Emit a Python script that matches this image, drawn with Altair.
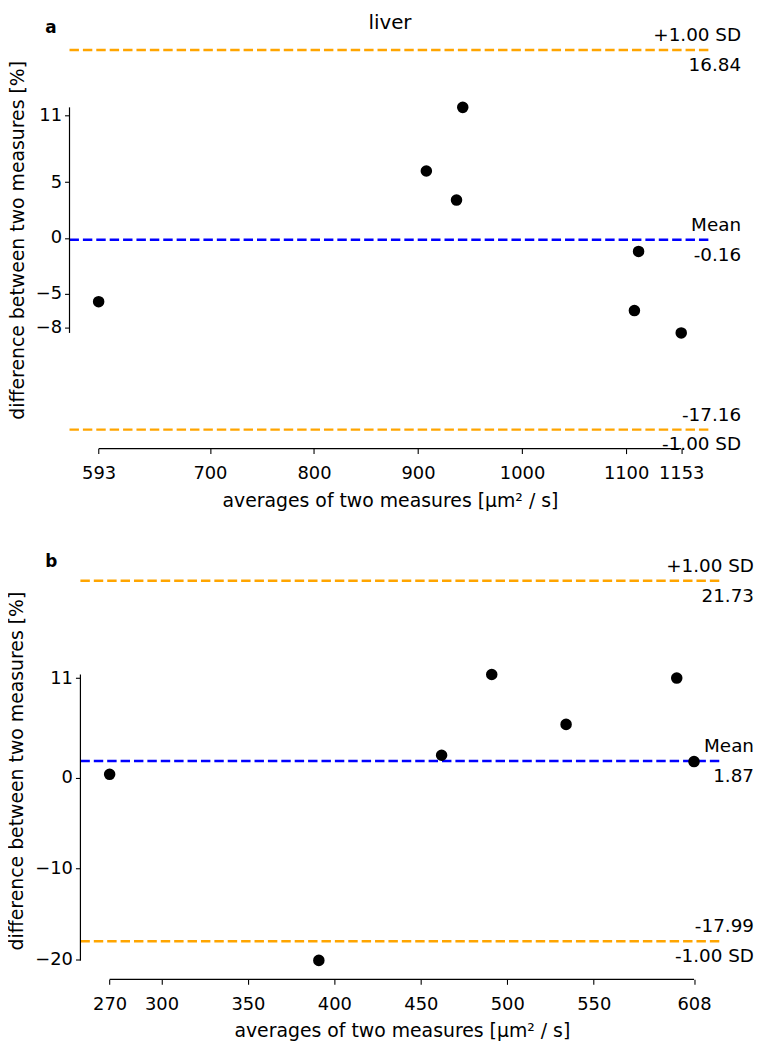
import altair as alt
import pandas as pd

FONT = "DejaVu Sans"
ORANGE = "#ffa500"
BLUE = "#0000ff"

# ---------------- panel a (liver) ----------------
a_avg = [593, 908, 937, 943, 1108, 1112, 1153]
a_diff = [-5.7, 6.0, 3.4, 11.7, -6.5, -1.2, -8.5]
a_line_vals = [16.84, -0.16, -17.16]
a_line_colors = [ORANGE, BLUE, ORANGE]
a_above = ["+1.00 SD", "Mean", "-17.16"]
a_below = ["16.84", "-0.16", "-1.00 SD"]
a_xticks = [593, 700, 800, 900, 1000, 1100, 1153]
a_yticks = [-8, -5, 0, 5, 11]
a_xdomain = [565, 1181]
a_ydomain = [-18.86, 18.54]

# ---------------- panel b ----------------
b_avg = [270, 391, 462, 491, 534, 598, 608]
b_diff = [0.4, -20.1, 2.5, 11.4, 5.9, 11.0, 1.8]
b_line_vals = [21.73, 1.87, -17.99]
b_line_colors = [ORANGE, BLUE, ORANGE]
b_above = ["+1.00 SD", "Mean", "-17.99"]
b_below = ["21.73", "1.87", "-1.00 SD"]
b_xticks = [270, 300, 350, 400, 450, 500, 550, 608]
b_yticks = [-20, -10, 0, 11]
b_xdomain = [253.1, 624.9]
b_ydomain = [-22.19, 23.82]

X_TITLE = "averages of two measures [µm² / s]"
Y_TITLE = "difference between two measures [%]"


def panel(avg, diff, line_vals, line_colors, above, below, xticks, yticks,
          xdom, ydom, letter, letter_pos, W, H, shift=0, title=None):
    pts = pd.DataFrame({"avg": avg, "diff": diff})
    lines = pd.DataFrame({"val": line_vals, "color": line_colors,
                          "above": above, "below": below})
    xs = alt.Scale(domain=xdom, nice=False, zero=False, range=[-shift, W - shift])
    ys = alt.Scale(domain=ydom, nice=False, zero=False)
    xax = alt.Axis(values=xticks, format="d", title=X_TITLE)
    yax = alt.Axis(values=yticks, format="d", title=Y_TITLE, offset=shift)

    rules = alt.Chart(lines).mark_rule(strokeDash=[9.5, 4], strokeWidth=2.4).encode(
        x=alt.X(datum=xdom[0], scale=xs, axis=xax),
        x2=alt.X2(datum=xdom[1]),
        y=alt.Y("val:Q", scale=ys, axis=yax),
        color=alt.Color("color:N", scale=None),
    )
    yspine = alt.Chart(pts).mark_rule(color="#000000", strokeWidth=1.2).encode(
        x=alt.X(datum=xdom[0], scale=xs, axis=xax),
        y=alt.Y("min(diff):Q", scale=ys, axis=yax),
        y2="max(diff):Q",
    )
    xspine = alt.Chart(pts).mark_rule(color="#000000", strokeWidth=1.2).encode(
        y=alt.value(H),
        x=alt.X("min(avg):Q", scale=xs, axis=xax),
        x2="max(avg):Q",
    )
    points = alt.Chart(pts).mark_circle(size=135, color="black", opacity=1).encode(
        x=alt.X("avg:Q", scale=xs, axis=xax),
        y=alt.Y("diff:Q", scale=ys, axis=yax),
    )
    tx = W - shift + 31
    txt_above = alt.Chart(lines).mark_text(
        align="right", baseline="alphabetic", dy=-9, fontSize=18.5, font=FONT, color="black"
    ).encode(x=alt.value(tx), y=alt.Y("val:Q", scale=ys, axis=yax), text="above:N")
    txt_below = alt.Chart(lines).mark_text(
        align="right", baseline="top", dy=6, fontSize=18.5, font=FONT, color="black"
    ).encode(x=alt.value(tx), y=alt.Y("val:Q", scale=ys, axis=yax), text="below:N")
    lab = alt.Chart(pd.DataFrame({"t": [letter]})).mark_text(
        align="left", baseline="alphabetic", fontSize=17, fontWeight="bold", font=FONT, color="black"
    ).encode(x=alt.value(letter_pos[0]), y=alt.value(letter_pos[1]), text="t:N")
    layers = [rules, yspine, xspine, points, txt_above, txt_below, lab]
    if title is not None:
        ttl = alt.Chart(pd.DataFrame({"t": [title]})).mark_text(
            align="center", baseline="alphabetic", fontSize=20, font=FONT, color="black"
        ).encode(x=alt.value(W / 2 - shift), y=alt.value(-2.5), text="t:N")
        layers.append(ttl)
    return alt.layer(*layers).properties(width=W, height=H)


pa = panel(a_avg, a_diff, a_line_vals, a_line_colors, a_above, a_below, a_xticks, a_yticks,
           a_xdomain, a_ydomain, "a", (-35.5, 2), 646, 421, shift=11, title="liver")
pb = panel(b_avg, b_diff, b_line_vals, b_line_colors, b_above, b_below, b_xticks, b_yticks,
           b_xdomain, b_ydomain, "b", (-35.5, 5), 648, 421)

chart = alt.vconcat(pa, pb, spacing=43).properties(
    padding={"left": 0, "top": 0, "right": 0, "bottom": 0}
).configure_axis(
    domain=False, grid=False, ticks=True, tickColor="black", tickSize=5, tickWidth=1.1,
    labelFont=FONT, labelFontSize=18, labelColor="black", labelPadding=3,
    titleFont=FONT, titleFontSize=19, titleFontWeight="normal", titleColor="black",
).configure_axisY(titlePadding=8).configure_axisX(titlePadding=9, labelPadding=11).configure_view(stroke=None)

chart.save("out.html", embed_options={"renderer": "svg", "actions": False})
